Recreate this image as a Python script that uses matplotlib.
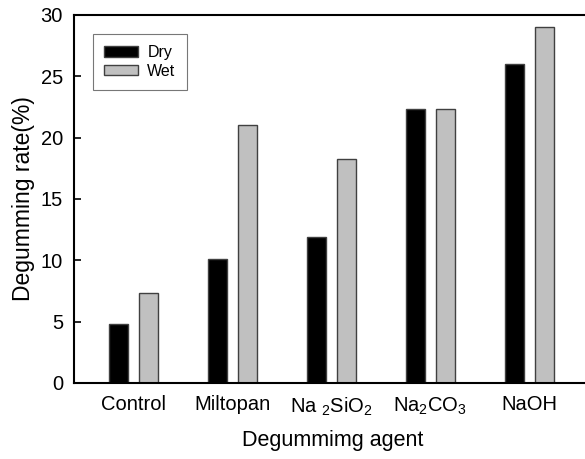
import matplotlib
matplotlib.use('Agg')
import matplotlib.pyplot as plt
import numpy as np

plt.rcParams['font.family'] = ['Liberation Sans', 'DejaVu Sans']
plt.rcParams['mathtext.fontset'] = 'custom'
plt.rcParams['mathtext.rm'] = 'Liberation Sans'
plt.rcParams['mathtext.it'] = 'Liberation Sans'

agents = ['Control', 'Miltopan', r'Na $_2$SiO$_2$', r'Na$_2$CO$_3$', 'NaOH']
dry = [4.8, 10.1, 11.9, 22.3, 26.0]
wet = [7.3, 21.0, 18.3, 22.3, 29.0]

x = np.arange(len(agents))
width = 0.19

fig = plt.figure(figsize=(5.85, 4.59), dpi=100)
ax = fig.add_axes([74/585, 1 - 383/459, (592 - 74)/585, (383 - 15)/459])

ax.bar(x - 0.15, dry, width, label='Dry', color='black', edgecolor='#404040', linewidth=1)
ax.bar(x + 0.15, wet, width, label='Wet', color='#c0c0c0', edgecolor='#404040', linewidth=1)

ax.set_xlim(-0.6, -0.6 + (592 - 74)/99)
ax.set_ylim(0, 30)
ax.set_yticks([0, 5, 10, 15, 20, 25, 30])
ax.set_xticks(x)
ax.set_xticklabels(agents, fontsize=14.5)
ax.tick_params(axis='y', direction='in', length=5, width=1.2, labelsize=14.5, pad=8)
ax.tick_params(axis='x', length=0, pad=9)
for s in ax.spines.values():
    s.set_linewidth(1.5)

ax.set_ylabel('Degumming rate(%)', fontsize=16.5, labelpad=4)
ax.set_xlabel('Degummimg agent', fontsize=15.5, labelpad=9)

leg = ax.legend(loc='upper left', bbox_to_anchor=(0.0367, 0.948), borderaxespad=0,
                fontsize=11.5, frameon=True, fancybox=False, handlelength=2.1,
                handleheight=0.65, borderpad=0.7, labelspacing=0.2, handletextpad=0.6)
leg.get_frame().set_edgecolor('#555555')
leg.get_frame().set_linewidth(0.8)

plt.savefig('out.png', dpi=100)
